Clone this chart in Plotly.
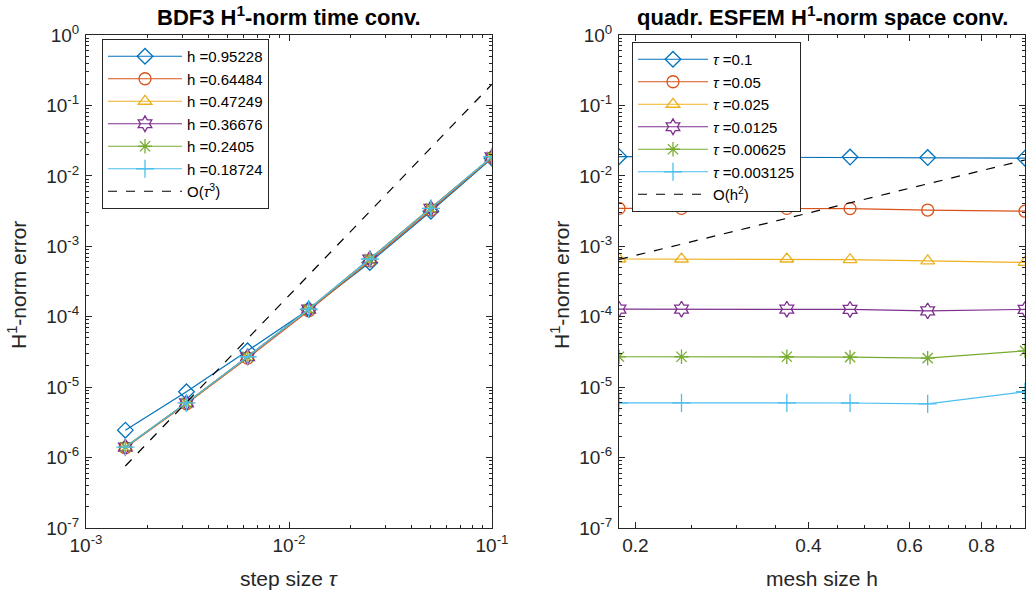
import plotly.graph_objects as go
import numpy as np

# ---- data ----
tau = [0.1, 0.05, 0.025, 0.0125, 0.00625, 0.003125, 0.0015625]
h = [0.18724, 0.2405, 0.36676, 0.47249, 0.64484, 0.95228]
# err[i][j]: error for tau[i], h[j]
err = [
    [0.0187, 0.0186, 0.0186, 0.0185, 0.0182, 0.0178],
    [0.00345, 0.00345, 0.00345, 0.00343, 0.00327, 0.00315],
    [6.6e-4, 6.6e-4, 6.6e-4, 6.45e-4, 6.2e-4, 5.9e-4],
    [1.28e-4, 1.28e-4, 1.28e-4, 1.27e-4, 1.21e-4, 1.27e-4],
    [2.70e-5, 2.70e-5, 2.70e-5, 2.67e-5, 2.58e-5, 3.28e-5],
    [5.98e-6, 5.98e-6, 5.98e-6, 5.95e-6, 5.8e-6, 8.6e-6],
    [1.41e-6, 1.41e-6, 1.41e-6, 1.40e-6, 1.38e-6, 2.45e-6],
]
h_labels = ["0.95228", "0.64484", "0.47249", "0.36676", "0.2405", "0.18724"]
tau_labels = ["0.1", "0.05", "0.025", "0.0125", "0.00625", "0.003125"]
ref_tau_x = [0.0015625, 0.1]
ref_tau_y = [7.6e-7, 0.2]
ref_h_x = [0.18724, 0.95228]
ref_h_y = [6.5e-4, 0.0168]
y_exps = [-7, -6, -5, -4, -3, -2, -1, 0]
x_exps = [-3, -2, -1]
h_ticks = [0.2, 0.4, 0.6, 0.8]

colors = ["#0072BD", "#D95319", "#EDB120", "#7E2F8E", "#77AC30", "#4DBEEE"]
symbols = ["diamond-open", "circle-open", "triangle-up-open", "hexagram-open",
           "asterisk-open", "cross-thin-open"]
sizes = [12, 12, 12, 12, 12, 13]

W, H = 1028, 594
FONT = "Liberation Sans, Arial, sans-serif"
AX = "#262626"

fig = go.Figure()

# left plot: one trace per h (descending h)
for k in range(6):
    j = 5 - k
    fig.add_trace(go.Scatter(
        x=tau, y=[err[i][j] for i in range(len(tau))],
        mode="lines+markers", name="h =" + h_labels[k],
        line=dict(color=colors[k], width=1.2),
        marker=dict(symbol=symbols[k], size=sizes[k], color=colors[k],
                    line=dict(color=colors[k], width=1.3)),
        xaxis="x", yaxis="y", legend="legend"))
fig.add_trace(go.Scatter(
    x=ref_tau_x, y=ref_tau_y, mode="lines", name="O(<i>τ</i><sup>3</sup>)",
    line=dict(color="black", width=1.2, dash="dash"),
    xaxis="x", yaxis="y", legend="legend"))

# right plot: one trace per tau
for k in range(6):
    fig.add_trace(go.Scatter(
        x=h, y=err[k],
        mode="lines+markers", name="<i>τ</i> =" + tau_labels[k],
        line=dict(color=colors[k], width=1.2),
        marker=dict(symbol=symbols[k], size=sizes[k], color=colors[k],
                    line=dict(color=colors[k], width=1.3)),
        xaxis="x2", yaxis="y2", legend="legend2"))
fig.add_trace(go.Scatter(
    x=ref_h_x, y=ref_h_y, mode="lines", name="O(h<sup>2</sup>)",
    line=dict(color="black", width=1.2, dash="dash"),
    xaxis="x2", yaxis="y2", legend="legend2"))

def minor_vals(d0, d1):
    v = []
    for d in range(d0, d1):
        for m in range(2, 10):
            v.append(m * 10.0 ** d)
    return v

def pow_text(e):
    return "10<sup>%d</sup>" % e

L0, L1 = 86, 492
R0, R1 = 619, 1025
T, B = 35, 528
ydom = [(H - B) / H, (H - T) / H]

common = dict(showline=True, linecolor=AX, linewidth=1, mirror="allticks",
              ticks="inside", ticklen=6, tickcolor=AX, tickwidth=1,
              showgrid=False, zeroline=False, automargin=False,
              tickfont=dict(family=FONT, size=19, color=AX))

yax = dict(common, type="log", range=[-7, 0], domain=ydom,
           tickvals=[10.0 ** e for e in y_exps], ticktext=[pow_text(e) for e in y_exps],
           ticklabelstandoff=2,
           minor=dict(tickvals=minor_vals(-7, 0), ticks="inside", ticklen=3,
                      tickcolor=AX, showgrid=False))

fig.update_layout(
    width=W, height=H, margin=dict(l=0, r=0, t=0, b=0, autoexpand=False),
    paper_bgcolor="white", plot_bgcolor="white",
    font=dict(family=FONT, color=AX),
    xaxis=dict(common, type="log", range=[-3, -1], domain=[L0 / W, L1 / W],
               tickvals=[10.0 ** e for e in x_exps],
               ticktext=[pow_text(e) for e in x_exps],
               minor=dict(tickvals=minor_vals(-3, -1), ticks="inside", ticklen=3,
                          tickcolor=AX, showgrid=False),
               anchor="y"),
    yaxis=dict(yax, anchor="x"),
    xaxis2=dict(common, type="log", range=[np.log10(h[0]), np.log10(h[-1])],
                domain=[R0 / W, R1 / W],
                tickvals=h_ticks, ticktext=["%g" % v for v in h_ticks],
                minor=dict(tickvals=[0.25, 0.3, 0.35, 0.45, 0.5, 0.55, 0.65, 0.7,
                                     0.75, 0.85, 0.9, 0.95],
                           ticks="inside", ticklen=3, tickcolor=AX, showgrid=False),
                anchor="y2"),
    yaxis2=dict(yax, anchor="x2"),
    legend=dict(x=102 / W, y=1 - 39 / H, xanchor="left", yanchor="top",
                bgcolor="white", bordercolor=AX, borderwidth=1,
                font=dict(family=FONT, size=15, color="black"),
                itemwidth=74, tracegroupgap=0),
    legend2=dict(x=632 / W, y=1 - 42 / H, xanchor="left", yanchor="top",
                 bgcolor="white", bordercolor=AX, borderwidth=1,
                 font=dict(family=FONT, size=15, color="black"),
                 itemwidth=70, tracegroupgap=0),
    showlegend=True,
)

def add_text(text, xp, yp, size, color, angle=0):
    return dict(text=text, x=xp / W, y=1 - yp / H, xref="paper", yref="paper",
                showarrow=False, textangle=angle, xanchor="center", yanchor="middle",
                font=dict(family=FONT, size=size, color=color))

ann = [
    add_text("<b>BDF3 H<sup>1</sup>-norm time conv.</b>", (L0 + L1) / 2, 16, 22, "black"),
    add_text("<b>quadr. ESFEM H<sup>1</sup>-norm space conv.</b>", (R0 + R1) / 2, 16, 22, "black"),
    add_text("step size <i>τ</i>", (L0 + L1) / 2, 578, 21, AX),
    add_text("mesh size h", (R0 + R1) / 2, 578, 21, AX),
    add_text("H<sup>1</sup>-norm error", 17, 285, 21, AX, -90),
    add_text("H<sup>1</sup>-norm error", 560, 285, 21, AX, -90),
]
fig.update_layout(annotations=ann)

fig.write_html("out.html", config={"displayModeBar": False},
               post_script="document.body.style.margin='0';document.body.style.padding='0';")
